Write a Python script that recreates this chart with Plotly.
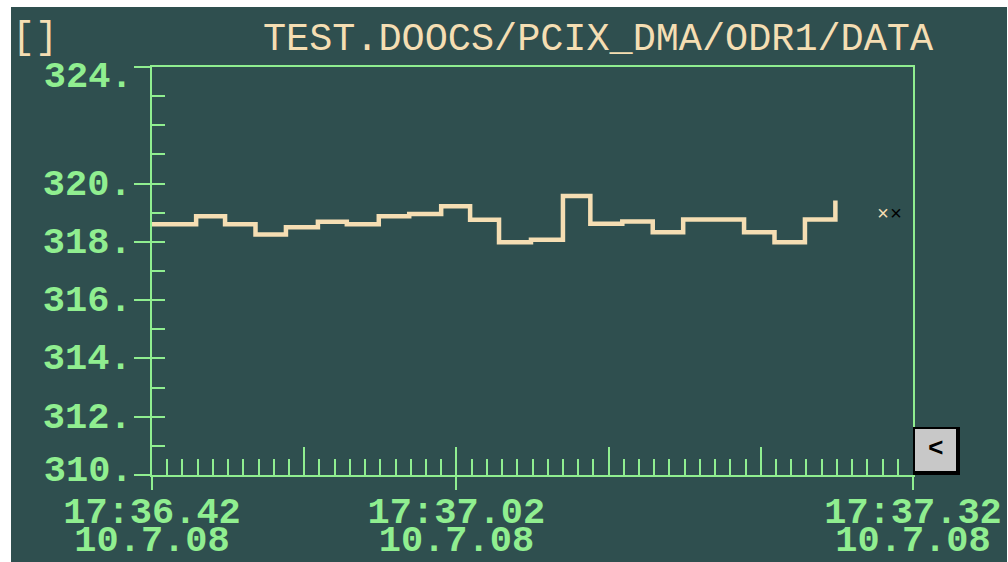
import plotly.graph_objects as go

# ---------------- data ----------------
times = [
    "2008-07-10 17:36:40.9", "2008-07-10 17:36:44.9", "2008-07-10 17:36:46.8",
    "2008-07-10 17:36:48.8", "2008-07-10 17:36:50.8", "2008-07-10 17:36:52.9",
    "2008-07-10 17:36:54.8", "2008-07-10 17:36:56.9", "2008-07-10 17:36:58.9",
    "2008-07-10 17:37:01.0", "2008-07-10 17:37:02.9", "2008-07-10 17:37:04.8",
    "2008-07-10 17:37:06.9", "2008-07-10 17:37:09.0", "2008-07-10 17:37:10.8",
    "2008-07-10 17:37:12.9", "2008-07-10 17:37:14.9", "2008-07-10 17:37:16.9",
    "2008-07-10 17:37:18.9", "2008-07-10 17:37:20.9", "2008-07-10 17:37:22.9",
    "2008-07-10 17:37:24.9", "2008-07-10 17:37:26.9",
]
values = [
    318.60, 318.88, 318.60, 318.25, 318.50, 318.69, 318.60, 318.88, 318.96,
    319.22, 318.76, 317.99, 318.07, 319.57, 318.62, 318.70, 318.33, 318.77,
    318.77, 318.33, 317.99, 318.77, 319.42,
]
x_range = ["2008-07-10 17:36:42", "2008-07-10 17:37:32"]
x_tick_times = ["2008-07-10 17:36:42", "2008-07-10 17:37:02", "2008-07-10 17:37:32"]
y_range = [310, 324]
y_mid_ticks = [310, 312, 314, 316, 318, 320, 324]
y_mid_labels = ["", "312.", "314.", "316.", "318.", "320.", ""]
y_top_tick = [324]
y_top_label = ["324."]
y_bottom_tick = [310]
y_bottom_label = ["310."]
title_text = "TEST.DOOCS/PCIX_DMA/ODR1/DATA"
corner_text = "[]"

# ---------------- style ----------------
W, H = 1008, 562
L, R, T, B = 152, 913, 67, 475
BG = "#2f4f4f"
GREEN = "#90ee90"
WHEAT = "#f5deb3"
MONO = "Liberation Mono"


def px(xp):
    return (xp - L) / (R - L)


def py(yp):
    return (B - yp) / (B - T)


tickfont = dict(family=MONO, size=37, color=GREEN, weight="bold")

fig = go.Figure()
fig.add_trace(go.Scatter(
    x=times, y=values, mode="lines", line=dict(color=WHEAT, width=4.5, shape="hv"),
    hoverinfo="skip", showlegend=False,
))
# empty helper traces so that overlay axes are drawn
for xa, ya in [("x2", "y"), ("x3", "y"), ("x", "y2"), ("x", "y3"), ("x", "y4")]:
    fig.add_trace(go.Scatter(x=[], y=[], xaxis=xa, yaxis=ya, showlegend=False, hoverinfo="skip"))

common_x = dict(type="date", range=x_range, showgrid=False, zeroline=False, automargin=False)
common_y = dict(range=y_range, showgrid=False, zeroline=False, automargin=False)

fig.update_layout(
    width=W, height=H,
    margin=dict(l=L, r=W - R, t=T, b=H - B, pad=0, autoexpand=False),
    paper_bgcolor=BG, plot_bgcolor=BG,
    xaxis=dict(
        **common_x, tickmode="array", tickvals=x_tick_times, tickformat="%H:%M.%S",
        ticks="outside", ticklen=13, tickwidth=2, tickcolor=GREEN,
        showline=True, linecolor=GREEN, linewidth=2, mirror=True,
        tickfont=tickfont, ticklabelstandoff=-11,
    ),
    xaxis2=dict(
        **common_x, overlaying="x", anchor="y", tickmode="linear",
        tick0=x_range[0], dtick=10000, ticks="inside", ticklen=28, tickwidth=2,
        tickcolor=GREEN, showticklabels=False, showline=False,
        minor=dict(ticks="inside", ticklen=16, tickwidth=2, tickcolor=GREEN,
                   tick0=x_range[0], dtick=1000, showgrid=False),
    ),
    xaxis3=dict(
        **common_x, overlaying="x", anchor="y", tickmode="array", tickvals=x_tick_times,
        tickformat="%-d.%-m.%y", ticks="outside", ticklen=13, tickwidth=2,
        tickcolor=GREEN, showline=False, tickfont=tickfont, ticklabelstandoff=18,
    ),
    yaxis=dict(
        **common_y, tickmode="array", tickvals=y_mid_ticks, ticktext=y_mid_labels,
        ticks="outside", ticklen=16, tickwidth=2, tickcolor=GREEN,
        showline=True, linecolor=GREEN, linewidth=2, mirror=True,
        tickfont=tickfont, ticklabelstandoff=-5, ticklabelshift=-2,
    ),
    yaxis2=dict(
        **common_y, overlaying="y", anchor="x", side="left", tickmode="array",
        tickvals=y_top_tick, ticktext=y_top_label, ticks="outside", ticklen=16,
        tickwidth=2, tickcolor=GREEN, showline=False, tickfont=tickfont,
        ticklabelstandoff=-5, ticklabelshift=7,
    ),
    yaxis3=dict(
        **common_y, overlaying="y", anchor="x", side="left", tickmode="array",
        tickvals=y_bottom_tick, ticktext=y_bottom_label, ticks="outside", ticklen=16,
        tickwidth=2, tickcolor=GREEN, showline=False, tickfont=tickfont,
        ticklabelstandoff=-5, ticklabelshift=-7,
    ),
    yaxis4=dict(
        **common_y, overlaying="y", anchor="x", side="left", tickmode="linear",
        tick0=310, dtick=1, ticks="inside", ticklen=13, tickwidth=2,
        tickcolor=GREEN, showticklabels=False, showline=False,
    ),
    hovermode=False,
)

# white frame around the dark panel
shapes = [
    dict(type="rect", xref="paper", yref="paper", x0=px(0), x1=px(11), y0=py(H), y1=py(0),
         fillcolor="white", line=dict(width=0)),
    dict(type="rect", xref="paper", yref="paper", x0=px(0), x1=px(W), y0=py(7), y1=py(0),
         fillcolor="white", line=dict(width=0)),
    dict(type="rect", xref="paper", yref="paper", x0=px(1007), x1=px(W), y0=py(H), y1=py(0),
         fillcolor="white", line=dict(width=0)),
    # scroll button
    dict(type="rect", xref="paper", yref="paper", x0=px(913), x1=px(960), y0=py(475), y1=py(427),
         fillcolor="black", line=dict(width=0)),
    dict(type="rect", xref="paper", yref="paper", x0=px(915), x1=px(956), y0=py(471), y1=py(429),
         fillcolor="#c8c8c8", line=dict(width=0)),
]
fig.update_layout(shapes=shapes)

annotations = [
    dict(text=title_text, xref="paper", yref="paper", x=px(598), y=py(40),
         xanchor="center", yanchor="middle", showarrow=False,
         font=dict(family=MONO, size=38.5, color=WHEAT)),
    dict(text=corner_text, xref="paper", yref="paper", x=px(10), y=py(38),
         xanchor="left", yanchor="middle", showarrow=False,
         font=dict(family=MONO, size=38.5, color=WHEAT)),
    dict(text="×", xref="paper", yref="paper", x=px(883), y=py(214),
         xanchor="center", yanchor="middle", showarrow=False,
         font=dict(family=MONO, size=20, color=WHEAT)),
    dict(text="×", xref="paper", yref="paper", x=px(896), y=py(214),
         xanchor="center", yanchor="middle", showarrow=False,
         font=dict(family=MONO, size=20, color="black")),
    dict(text="<", xref="paper", yref="paper", x=px(936), y=py(449),
         xanchor="center", yanchor="middle", showarrow=False,
         font=dict(family=MONO, size=26, color="black", weight="bold")),
]
fig.update_layout(annotations=annotations)

fig.write_html(
    "out.html",
    config={"displayModeBar": False},
    post_script="document.body.style.margin='0';document.body.style.overflow='hidden';",
)
